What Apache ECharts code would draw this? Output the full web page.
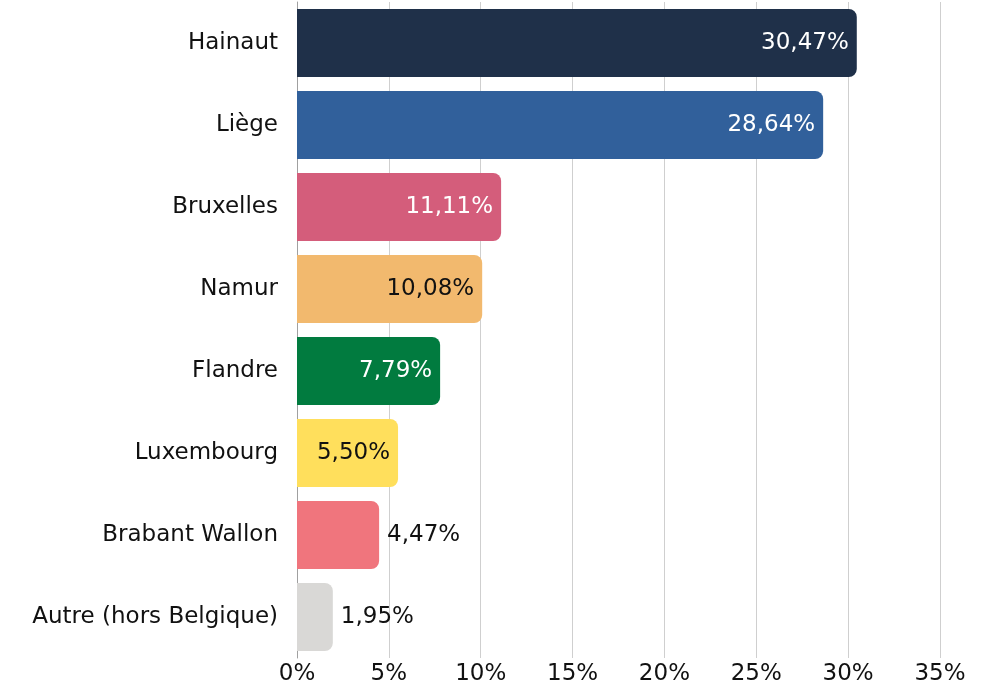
<!DOCTYPE html>
<html>
<head>
<meta charset="utf-8">
<script src="https://cdn.jsdelivr.net/npm/echarts@6/dist/echarts.min.js"></script>
<style>
  html, body { margin: 0; padding: 0; background: #fff; }
  #chart { width: 989px; height: 688px; }
</style>
</head>
<body>
<div id="chart"></div>
<script>
// données
var provinces = ['Hainaut', 'Liège', 'Bruxelles', 'Namur', 'Flandre', 'Luxembourg', 'Brabant Wallon', 'Autre (hors Belgique)'];
var parts = [30.47, 28.64, 11.11, 10.08, 7.79, 5.50, 4.47, 1.95];
var xTicks = [0, 5, 10, 15, 20, 25, 30, 35];

// couleurs
var barColors = ['#1f3049', '#31609b', '#d45d7b', '#f2b96e', '#017b3f', '#ffdf5c', '#f0757d', '#d9d8d6'];
var labelColors = ['#fff', '#fff', '#fff', '#111', '#fff', '#111', '#111', '#111'];

var myChart = echarts.init(document.getElementById('chart'));
var font = '"DejaVu Sans", "Noto Sans", sans-serif';

var seriesData = parts.map(function (v, i) {
    var outside = v < 5;
    return {
        value: v,
        itemStyle: { color: barColors[i], borderRadius: [0, 8, 8, 0] },
        label: {
            position: outside ? 'right' : 'insideRight',
            distance: outside ? 8 : 8,
            color: labelColors[i]
        }
    };
});

var option = {
    animation: false,
    grid: { left: 297, right: 49, top: 2, bottom: 30, containLabel: false },
    xAxis: {
        type: 'value',
        min: xTicks[0],
        max: xTicks[xTicks.length - 1],
        interval: 5,
        axisLine: { show: false },
        axisTick: { show: false },
        axisLabel: {
            formatter: '{value}%',
            fontSize: 23,
            fontFamily: font,
            color: '#111',
            margin: 5
        },
        splitLine: { lineStyle: { color: '#cfcfcf', width: 1 } }
    },
    yAxis: {
        type: 'category',
        inverse: true,
        data: provinces,
        axisLine: { show: true, lineStyle: { color: '#a0a0a0' } },
        axisTick: { show: false },
        axisLabel: {
            fontSize: 23,
            fontFamily: font,
            color: '#111',
            margin: 19
        }
    },
    series: [{
        type: 'bar',
        data: seriesData,
        barCategoryGap: '17%',
        label: {
            show: true,
            fontSize: 23,
            fontFamily: font,
            formatter: function (p) {
                return p.value.toFixed(2).replace('.', ',') + '%';
            }
        }
    }]
};
myChart.setOption(option);
</script>
</body>
</html>
